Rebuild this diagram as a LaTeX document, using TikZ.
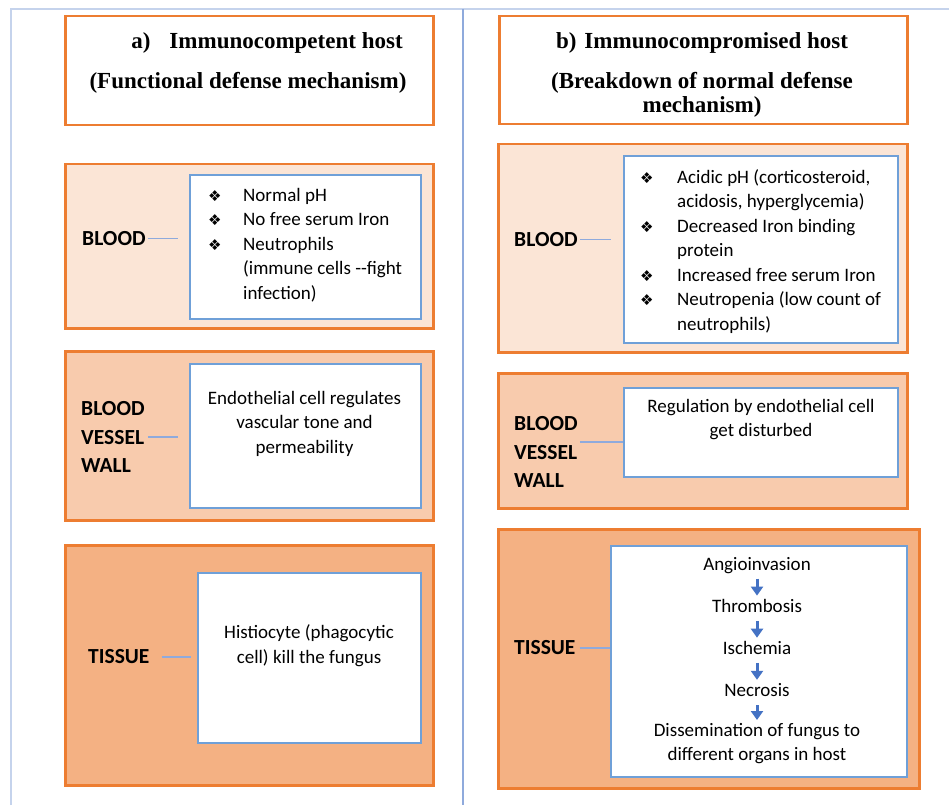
\documentclass[tikz,border=0pt]{standalone}
\usepackage{fontspec}
\setmainfont{Carlito}
\newfontfamily\hdfont{Liberation Serif}
\newfontfamily\dingfont{DejaVu Sans}
\usetikzlibrary{arrows.meta, positioning}

\definecolor{orangeline}{HTML}{ED7D31}
\definecolor{peachA}{HTML}{FBE5D6}
\definecolor{peachB}{HTML}{F8CBAD}
\definecolor{peachC}{HTML}{F4B183}
\definecolor{blueline}{HTML}{6FA0D8}
\definecolor{linkblue}{HTML}{8FAADC}
\definecolor{framegray}{HTML}{C5D3EC}
\definecolor{arrowblue}{HTML}{4472C4}

\newcommand{\bul}{{\dingfont\fontsize{15}{15}\selectfont ❖}}

\tikzset{
  layer/.style={draw=orangeline, line width=2.5pt, anchor=north west, inner sep=0pt},
  innerbox/.style={draw=blueline, line width=2pt, fill=white, anchor=north west, inner sep=0pt},
  headtxt/.style={font=\hdfont\bfseries\fontsize{23}{24}\selectfont, inner sep=0pt, anchor=north},
  lbl/.style={font=\bfseries\fontsize{21.5}{28.5}\selectfont, align=left, inner sep=0pt, anchor=west},
  listtxt/.style={font=\fontsize{19}{24.5}\selectfont, inner sep=0pt, anchor=north west},
  bodytxt/.style={font=\fontsize{19}{24.5}\selectfont, align=center, inner sep=0pt, anchor=north,
    execute at begin node=\strut},
  flowtxt/.style={font=\fontsize{19}{24.5}\selectfont, inner sep=0pt, text height=13.3pt, text depth=4.5pt},
  link/.style={draw=linkblue, line width=1.5pt},
  flow/.style={-{Triangle[width=12pt,length=9pt]}, draw=arrowblue, line width=3pt, shorten <=4pt, shorten >=3pt}
}

\begin{document}
\begin{tikzpicture}[x=1pt, y=-1pt, node distance=23.9pt]
\useasboundingbox (0,0) rectangle (949,805);

% page frame
\draw[framegray, line width=2pt] (11,805) -- (11,9) -- (949,9);
\draw[linkblue, line width=2pt] (463,9) -- (463,805);

% headers
\node[layer, fill=white, minimum width=368pt, minimum height=109pt] (lhead) at (64,15) {};
\node[layer, fill=white, minimum width=408pt, minimum height=108pt] (rhead) at (498,15) {};
\node[headtxt] (lhead-txt) at (248,31.2) {\begin{tabular}{@{}c@{}}
  \hspace*{38pt}a)\hspace{19pt}Immunocompetent host\\[16pt]
  (Functional defense mechanism)
\end{tabular}};
\node[headtxt] (rhead-txt) at (702,31.2) {\begin{tabular}{@{}c@{}}
  b)\hspace{8pt}Immunocompromised host\\[16pt]
  (Breakdown of normal defense\\
  mechanism)
\end{tabular}};

% outer layers
\node[layer, fill=peachA, minimum width=368pt, minimum height=164pt] (lblood) at (64,163) {};
\node[layer, fill=peachB, minimum width=368pt, minimum height=169pt] (lvessel) at (64,350) {};
\node[layer, fill=peachC, minimum width=368pt, minimum height=240pt] (ltissue) at (64,544) {};
\node[layer, fill=peachA, minimum width=409pt, minimum height=208pt] (rblood) at (497,143) {};
\node[layer, fill=peachB, minimum width=409pt, minimum height=135pt] (rvessel) at (497,372) {};
\node[layer, fill=peachC, minimum width=421pt, minimum height=259pt] (rtissue) at (497,528) {};

% white boxes
\node[innerbox, minimum width=231pt, minimum height=144pt] (lblood-in) at (189,174) {};
\node[innerbox, minimum width=231pt, minimum height=144pt] (lvessel-in) at (189,363) {};
\node[innerbox, minimum width=223pt, minimum height=170pt] (ltissue-in) at (197,572) {};
\node[innerbox, minimum width=274pt, minimum height=187pt] (rblood-in) at (623,155) {};
\node[innerbox, minimum width=274pt, minimum height=89pt] (rvessel-in) at (623,387) {};
\node[innerbox, minimum width=296pt, minimum height=231pt] (rtissue-in) at (610,545) {};

% labels
\node[lbl] (lblood-lbl) at (82,238.5) {BLOOD};
\node[lbl] (lvessel-lbl) at (81,437) {BLOOD\\VESSEL\\WALL};
\node[lbl] (ltissue-lbl) at (88,657) {TISSUE};
\node[lbl] (rblood-lbl) at (514,239.5) {BLOOD};
\node[lbl] (rvessel-lbl) at (514,452) {BLOOD\\VESSEL\\WALL};
\node[lbl] (rtissue-lbl) at (514,648) {TISSUE};

\draw[link, shorten <=2pt, shorten >=11pt] (lblood-lbl.east) -- (lblood-lbl.east -| lblood-in.west);
\draw[link, shorten <=3pt, shorten >=11pt] (lvessel-lbl.east) -- (lvessel-lbl.east -| lvessel-in.west);
\draw[link, shorten <=12pt, shorten >=6pt] (ltissue-lbl.east) -- (ltissue-lbl.east -| ltissue-in.west);
\draw[link, shorten <=2pt, shorten >=12pt] (rblood-lbl.east) -- (rblood-lbl.east -| rblood-in.west);
\draw[link, shorten <=2pt] ([yshift=10pt]rvessel-lbl.east) -- ([yshift=10pt]rvessel-lbl.east -| rvessel-in.west);
\draw[link, shorten <=4pt] (rtissue-lbl.east) -- (rtissue-lbl.east -| rtissue-in.west);

% texts in the white boxes
\node[listtxt] (lblood-list) at (208,184) {\begin{tabular}{@{}p{35pt}@{}l@{}}
  \bul & Normal pH\\
  \bul & No free serum Iron\\
  \bul & Neutrophils\\
       & (immune cells -{}-fight\\
       & infection)
\end{tabular}};
\node[listtxt] (rblood-list) at (640,166) {\begin{tabular}{@{}p{37pt}@{}l@{}}
  \bul & Acidic pH (corticosteroid,\\
       & acidosis, hyperglycemia)\\
  \bul & Decreased Iron binding\\
       & protein\\
  \bul & Increased free serum Iron\\
  \bul & Neutropenia (low count of\\
       & neutrophils)
\end{tabular}};

\node[bodytxt] (lvessel-txt) at (304.5,390.9) {Endothelial cell regulates\\vascular tone and\\permeability};
\node[bodytxt] (rvessel-txt) at (761,398.9) {Regulation by endothelial cell\\get disturbed};
\node[bodytxt] (ltissue-txt) at (309,624.9) {Histiocyte (phagocytic\\cell) kill the fungus};

% cascade in tissue
\node[flowtxt, anchor=base] (angio) at (757,570) {Angioinvasion};
\node[flowtxt, below=of angio] (thromb) {Thrombosis};
\node[flowtxt, below=of thromb] (isch) {Ischemia};
\node[flowtxt, below=of isch] (necro) {Necrosis};
\node[bodytxt, below=22pt of necro] (dissem) {Dissemination of fungus to\\different organs in host};

\foreach \a/\b in {angio/thromb, thromb/isch, isch/necro, necro/dissem}
  \draw[flow] (\a) -- (\b);
\end{tikzpicture}
\end{document}
